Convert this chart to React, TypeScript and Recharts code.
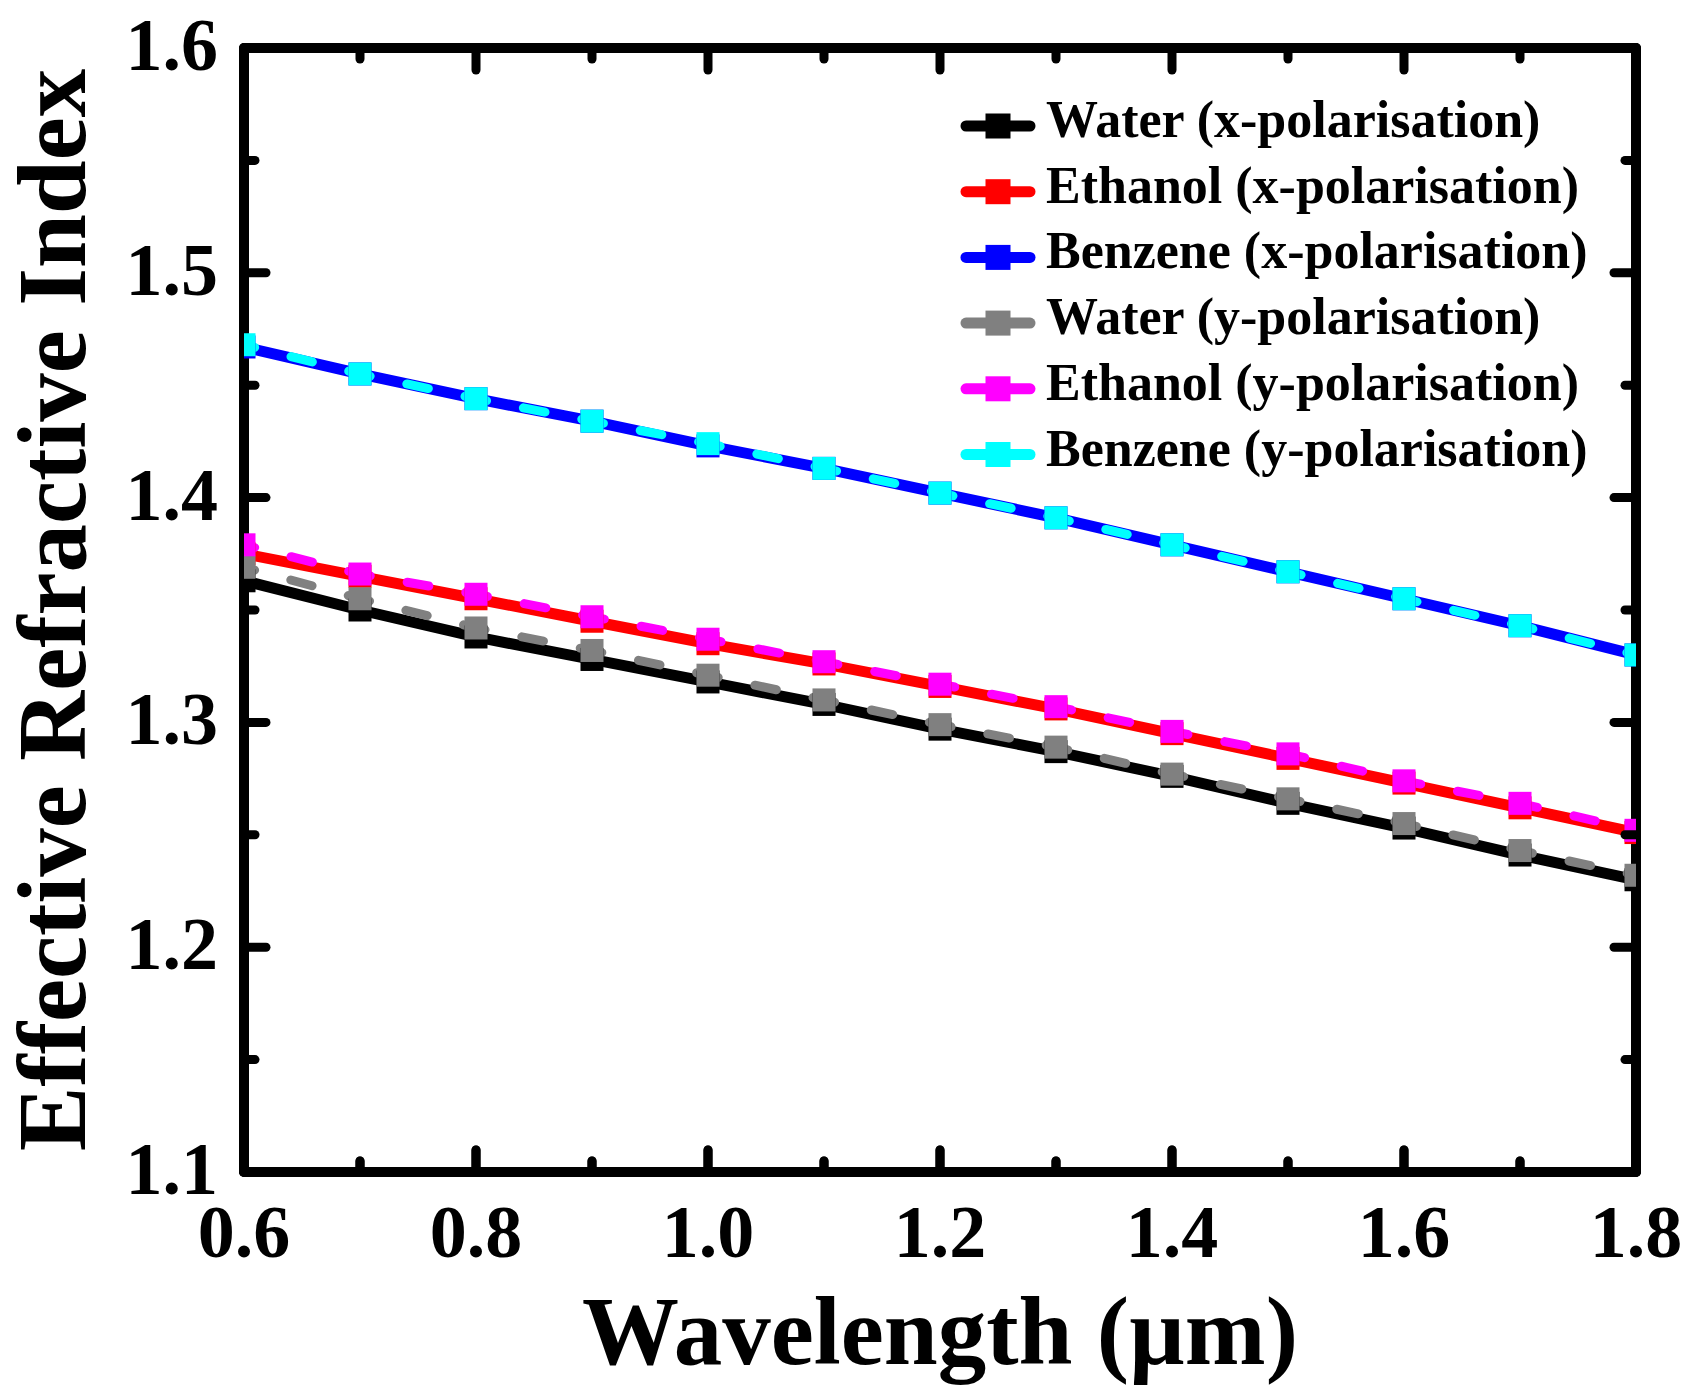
import { ComposedChart, Line, Scatter, XAxis, YAxis, Legend } from 'recharts'

const FONT = "'Times New Roman', 'Liberation Serif', serif"

const wavelength = [0.6, 0.7, 0.8, 0.9, 1.0, 1.1, 1.2, 1.3, 1.4, 1.5, 1.6, 1.7, 1.8]

const waterX = [1.363, 1.350, 1.338, 1.328, 1.318, 1.308, 1.297, 1.287, 1.276, 1.264, 1.253, 1.241, 1.230]
const ethanolX = [1.375, 1.365, 1.355, 1.345, 1.335, 1.326, 1.316, 1.306, 1.295, 1.284, 1.273, 1.262, 1.251]
const benzeneX = [1.467, 1.455, 1.444, 1.434, 1.423, 1.413, 1.402, 1.391, 1.379, 1.367, 1.355, 1.343, 1.330]
const waterY = [1.369, 1.355, 1.342, 1.332, 1.321, 1.310, 1.299, 1.289, 1.277, 1.266, 1.255, 1.243, 1.232]
const ethanolY = [1.379, 1.366, 1.357, 1.347, 1.337, 1.327, 1.317, 1.307, 1.296, 1.286, 1.274, 1.264, 1.252]
const benzeneY = [1.468, 1.455, 1.444, 1.434, 1.424, 1.413, 1.402, 1.391, 1.379, 1.367, 1.355, 1.343, 1.330]

const xTicks = [0.6, 0.7, 0.8, 0.9, 1.0, 1.1, 1.2, 1.3, 1.4, 1.5, 1.6, 1.7, 1.8]
const yTicks = [1.1, 1.15, 1.2, 1.25, 1.3, 1.35, 1.4, 1.45, 1.5, 1.55, 1.6]
const xDomain = [0.6, 1.8]
const yDomain = [1.1, 1.6]

const series = [
  { key: 'waterX', name: 'Water (x-polarisation)', color: '#000000', dashed: false },
  { key: 'ethanolX', name: 'Ethanol (x-polarisation)', color: '#ff0000', dashed: false },
  { key: 'benzeneX', name: 'Benzene (x-polarisation)', color: '#0000ff', dashed: false },
  { key: 'waterY', name: 'Water (y-polarisation)', color: '#808080', dashed: true },
  { key: 'ethanolY', name: 'Ethanol (y-polarisation)', color: '#ff00ff', dashed: true },
  { key: 'benzeneY', name: 'Benzene (y-polarisation)', color: '#00ffff', dashed: true },
]

const data = wavelength.map((w, i) => ({
  w,
  waterX: waterX[i],
  ethanolX: ethanolX[i],
  benzeneX: benzeneX[i],
  waterY: waterY[i],
  ethanolY: ethanolY[i],
  benzeneY: benzeneY[i],
}))

// tick marks on the top and bottom edges, placed through the axis scales
const topEdge = xTicks.map((t) => ({ w: t, edge: yDomain[1] }))
const bottomEdge = xTicks.map((t) => ({ w: t, edge: yDomain[0] }))

const W = 1691
const H = 1397
const margin = { top: 47, right: 54, bottom: 224, left: 243 }
const PLOT_W = W - margin.left - margin.right - 2

const isMajorX = (v: number) => Math.round(v * 10) % 2 === 0
const isMajorY = (v: number) => Math.round(v * 100) % 10 === 0

const frame = { stroke: '#000', strokeWidth: 10, strokeLinecap: 'round' as const }
const tickStroke = { stroke: '#000', strokeWidth: 9, strokeLinecap: 'round' as const }

function BottomTick(props: any) {
  const x = Number(props.x)
  const y = Number(props.y)
  const major = isMajorX(props.payload.value)
  return (
    <g>
      <line x1={x} y1={y} x2={x} y2={y - (major ? 22 : 11)} {...tickStroke} />
      {major && (
        <text x={x} y={y + 85} textAnchor="middle" fontFamily={FONT} fontWeight="bold" fontSize={74} fill="#000">
          {Number(props.payload.value).toFixed(1)}
        </text>
      )}
    </g>
  )
}

// left tick + mirrored right tick
function LeftTick(props: any) {
  const x = Number(props.x)
  const y = Number(props.y)
  const major = isMajorY(props.payload.value)
  const len = major ? 22 : 11
  const right = x + PLOT_W
  return (
    <g>
      <line x1={x} y1={y} x2={x + len} y2={y} {...tickStroke} />
      <line x1={right} y1={y} x2={right - len} y2={y} {...tickStroke} />
      {major && (
        <text x={x - 26} y={y + 22} textAnchor="end" fontFamily={FONT} fontWeight="bold" fontSize={74} fill="#000">
          {Number(props.payload.value).toFixed(1)}
        </text>
      )}
    </g>
  )
}

const edgeTick = (dir: 1 | -1) => (props: any) => {
  const cx = Number(props.cx)
  const cy = Number(props.cy)
  const w = props.payload?.w ?? props.w
  const len = isMajorX(Number(w)) ? 22 : 11
  return <line x1={cx} y1={cy} x2={cx} y2={cy + dir * len} {...tickStroke} />
}

const squareDot = (color: string) => (props: any) => {
  const { cx, cy, index } = props
  if (cx == null || cy == null) return <g key={index} />
  return <rect key={index} x={cx - 11.5} y={cy - 11.5} width={23} height={23} fill={color} />
}

function LegendBox() {
  return (
    <svg width={700} height={420}>
      {series.map((s, i) => {
        const cy = 36 + i * 65.7
        return (
          <g key={s.key}>
            <line x1={17} y1={cy} x2={81} y2={cy} stroke={s.color} strokeWidth={11} strokeLinecap="round" />
            <rect x={36.5} y={cy - 12.5} width={25} height={25} fill={s.color} />
            <text x={97} y={cy + 11} fontFamily={FONT} fontWeight="bold" fontSize={52} fill="#000">
              {s.name}
            </text>
          </g>
        )
      })}
    </svg>
  )
}

export default function App() {
  return (
    <div style={{ position: 'absolute', left: 0, top: 0, background: '#fff' }}>
      <ComposedChart width={W} height={H} data={data} margin={margin}>
        <XAxis
          dataKey="w"
          type="number"
          domain={xDomain}
          ticks={xTicks}
          interval={0}
          allowDataOverflow
          height={1}
          tickSize={0}
          tickMargin={0}
          tickLine={false}
          axisLine={frame}
          tick={BottomTick}
          label={{
            content: ({ viewBox }: any) => (
              <text
                x={viewBox.x + viewBox.width / 2}
                y={viewBox.y + 192}
                textAnchor="middle"
                fontFamily={FONT}
                fontWeight="bold"
                fontSize={97}
                fill="#000"
              >
                Wavelength (µm)
              </text>
            ),
          }}
        />
        <XAxis xAxisId="top" orientation="top" height={1} tick={false} tickLine={false} axisLine={frame} />
        <YAxis
          type="number"
          domain={yDomain}
          ticks={yTicks}
          interval={0}
          allowDataOverflow
          width={1}
          tickSize={0}
          tickMargin={0}
          tickLine={false}
          axisLine={frame}
          tick={LeftTick}
          label={{
            content: ({ viewBox }: any) => {
              const cx = viewBox.x + viewBox.width - 159
              const cy = viewBox.y + viewBox.height / 2
              return (
                <text
                  x={cx}
                  y={cy}
                  transform={`rotate(-90 ${cx} ${cy})`}
                  textAnchor="middle"
                  fontFamily={FONT}
                  fontWeight="bold"
                  fontSize={97}
                  fill="#000"
                >
                  Effective Refractive Index
                </text>
              )
            },
          }}
        />
        <YAxis yAxisId="right" orientation="right" width={1} tick={false} tickLine={false} axisLine={frame} />
        <Legend
          layout="vertical"
          align="center"
          verticalAlign="middle"
          wrapperStyle={{ left: 949, top: 90, width: 700, height: 420 }}
          content={() => <LegendBox />}
        />
        <Scatter
          data={topEdge}
          dataKey="edge"
          shape={edgeTick(1)}
          legendType="none"
          isAnimationActive={false}
        />
        <Scatter
          data={bottomEdge}
          dataKey="edge"
          shape={edgeTick(-1)}
          legendType="none"
          isAnimationActive={false}
        />
        {series.map((s) => (
          <Line
            key={s.key}
            type="linear"
            dataKey={s.key}
            name={s.name}
            stroke={s.color}
            strokeWidth={s.dashed ? 9 : 11}
            strokeDasharray={s.dashed ? '22 37.5' : undefined}
            strokeDashoffset={s.dashed ? 11 : undefined}
            strokeLinecap={s.dashed ? 'round' : 'butt'}
            dot={squareDot(s.color)}
            activeDot={false}
            isAnimationActive={false}
          />
        ))}
      </ComposedChart>
    </div>
  )
}
